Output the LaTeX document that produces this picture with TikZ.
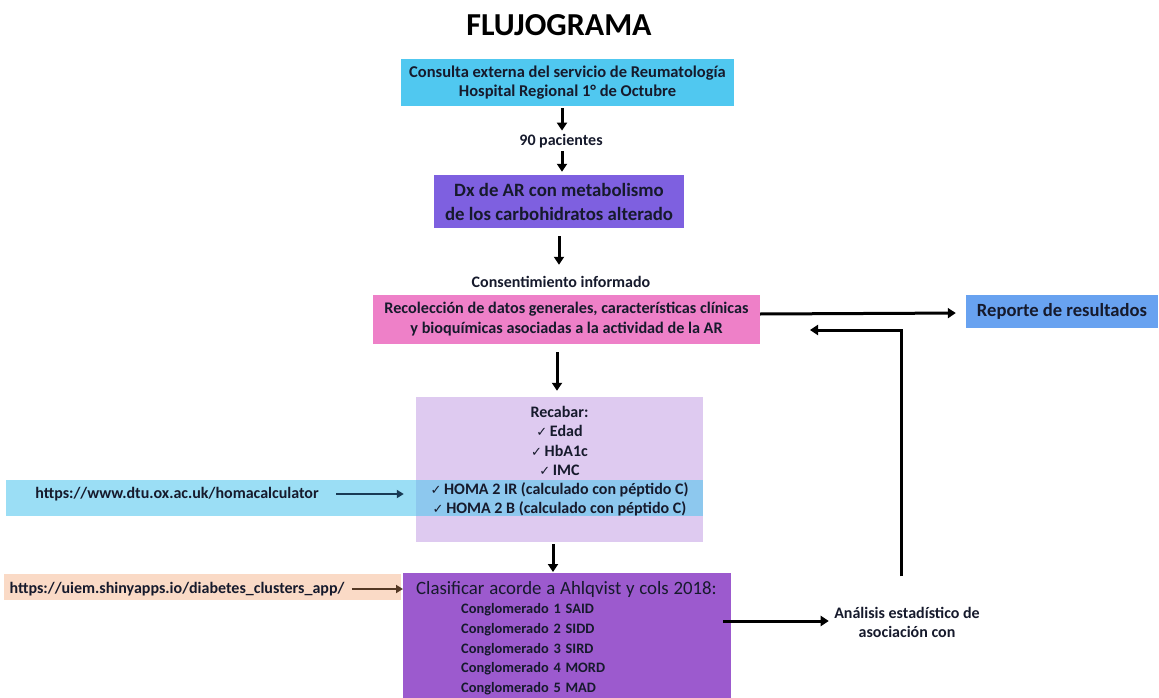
\documentclass[tikz,border=0pt]{standalone}
\usepackage{fontspec}
\setmainfont{Carlito}
\newfontfamily\symfont{DejaVu Sans}
\usepackage{tikz}
\usetikzlibrary{positioning, arrows.meta, backgrounds}
\definecolor{ink}{RGB}{22,26,44}
\definecolor{skyfill}{RGB}{80,200,240}
\definecolor{violetfill}{RGB}{126,96,224}
\definecolor{rosefill}{RGB}{238,128,200}
\definecolor{reportfill}{RGB}{104,162,240}
\definecolor{lilac}{RGB}{222,202,240}
\definecolor{bandsky}{RGB}{88,200,238}
\definecolor{peach}{RGB}{250,218,198}
\definecolor{plum}{RGB}{156,90,206}
\definecolor{tealink}{RGB}{24,58,84}
\definecolor{brownink}{RGB}{84,56,36}
\newcommand{\chk}{{\symfont\fontsize{13}{13}\selectfont ✓}\,}
\newcommand{\fs}[2]{\fontsize{#1}{#2}\selectfont}

\begin{document}
\begin{tikzpicture}[x=1pt, y=-1pt,
  font=\bfseries, text=ink,
  box/.style={inner sep=0pt, align=center},
  lbl/.style={font=\bfseries\fs{16}{19}, align=center},
  arr/.style={-{Triangle[length=8pt,width=10pt]}, line width=3pt, draw=black},
  urlarr/.style={arr, -{Triangle[length=7pt,width=8pt]}, line width=2.5pt}
]
\useasboundingbox (0,0) rectangle (1159,698);

\node[font=\bfseries\fs{32}{38}, text=black] (title) at (559,25) {FLUJOGRAMA};

\node[box, fill=skyfill, minimum width=333pt, minimum height=47pt,
      font=\bfseries\fs{16.5}{19}] (consulta) at (567.5,82.5)
  {Consulta externa del servicio de Reumatología\\Hospital Regional 1° de Octubre};

\node[lbl] (pacientes) at (561,141) {90 pacientes};

\node[box, fill=violetfill, minimum width=250pt, minimum height=53pt,
      font=\bfseries\fs{18.8}{24}] (dx) at (559,201.5)
  {Dx de AR con metabolismo\\de los carbohidratos alterado};

\node[lbl] (consent) at (561,282) {Consentimiento informado};

\node[box, fill=rosefill, minimum width=387pt, minimum height=49pt,
      font=\bfseries\fs{16.2}{20}] (recoleccion) at (566.5,319.5)
  {Recolección de datos generales, características clínicas\\y bioquímicas asociadas a la actividad de la AR};

\node[box, fill=reportfill, minimum width=192pt, minimum height=33pt,
      font=\bfseries\fs{18.6}{22}] (reporte) at (1062,311.5) {Reporte de resultados};

% datos a recabar, con la franja de HOMA encima
\begin{scope}[on background layer]
  \node[box, fill=lilac, minimum width=287pt, minimum height=145pt] (datos) at (559.5,469.5) {};
  \node[box, fill=bandsky, fill opacity=0.6, minimum width=697pt, minimum height=36pt] (homaband) at (354.5,498) {};
  \node[box, fill=peach, minimum width=397pt, minimum height=26pt] (clusterband) at (202.5,587) {};
\end{scope}

\node[box, anchor=north, font=\bfseries\fs{16}{19.3}] (recabar) at (559.5,406)
  {Recabar:\\\chk Edad\\\chk HbA1c\\\chk IMC\\\chk HOMA 2 IR (calculado con péptido C)\\\chk HOMA 2 B (calculado con péptido C)};

\node[lbl] (homaurl) at (177,494) {https://www.dtu.ox.ac.uk/homacalculator};
\node[lbl] (clusterurl) at (177,589) {https://uiem.shinyapps.io/diabetes\_clusters\_app/};

\node[box, fill=plum, anchor=north west, text width=302pt, inner xsep=13pt, inner ysep=8pt,
      align=left, font=\bfseries\fs{14.4}{19.6}] (clasif) at (403,573)
  {{\mdseries\fs{18.8}{19.6}Clasificar acorde a Ahlqvist y cols 2018:}\\
   \hspace*{45pt}Conglomerado 1 SAID\\
   \hspace*{45pt}Conglomerado 2 SIDD\\
   \hspace*{45pt}Conglomerado 3 SIRD\\
   \hspace*{45pt}Conglomerado 4 MORD\\
   \hspace*{45pt}Conglomerado 5 MAD};

\node[lbl] (analisis) at (907,622) {Análisis estadístico de\\asociación con};

\draw[arr, shorten <=2pt] (consulta.south -| 562,0) -- (pacientes.north -| 562,0);
\draw[arr, shorten <=0pt, shorten >=3pt] (pacientes.south -| 562,0) -- (dx.north -| 562,0);
\draw[arr, shorten <=8pt, shorten >=8pt] (dx.south -| 559,0) -- (consent.north -| 559,0);
\draw[arr, shorten <=8pt, shorten >=6pt] (recoleccion.south -| 557,0) -- (datos.north -| 557,0);
\draw[arr, shorten <=2pt, shorten >=1pt] (datos.south -| 553,0) -- (clasif.north -| 553,0);
\draw[urlarr, draw=tealink, shorten <=14pt, shorten >=12pt] (homaurl.east) -- (homaurl.east -| datos.west);
\draw[urlarr, draw=brownink, shorten <=4pt] (clusterurl.east) -- (clusterurl.east -| clasif.west);
\draw[arr, shorten <=-8pt, shorten >=2pt] (clasif.east |- 0,621) -- (analisis.west |- 0,621);
\draw[arr, shorten >=10pt] ([yshift=5.5pt]recoleccion.east) -- ([yshift=-1.5pt]reporte.west);
\draw[arr] ([yshift=27pt]analisis.north -| 901,0) |- (810,330);

\end{tikzpicture}
\end{document}
